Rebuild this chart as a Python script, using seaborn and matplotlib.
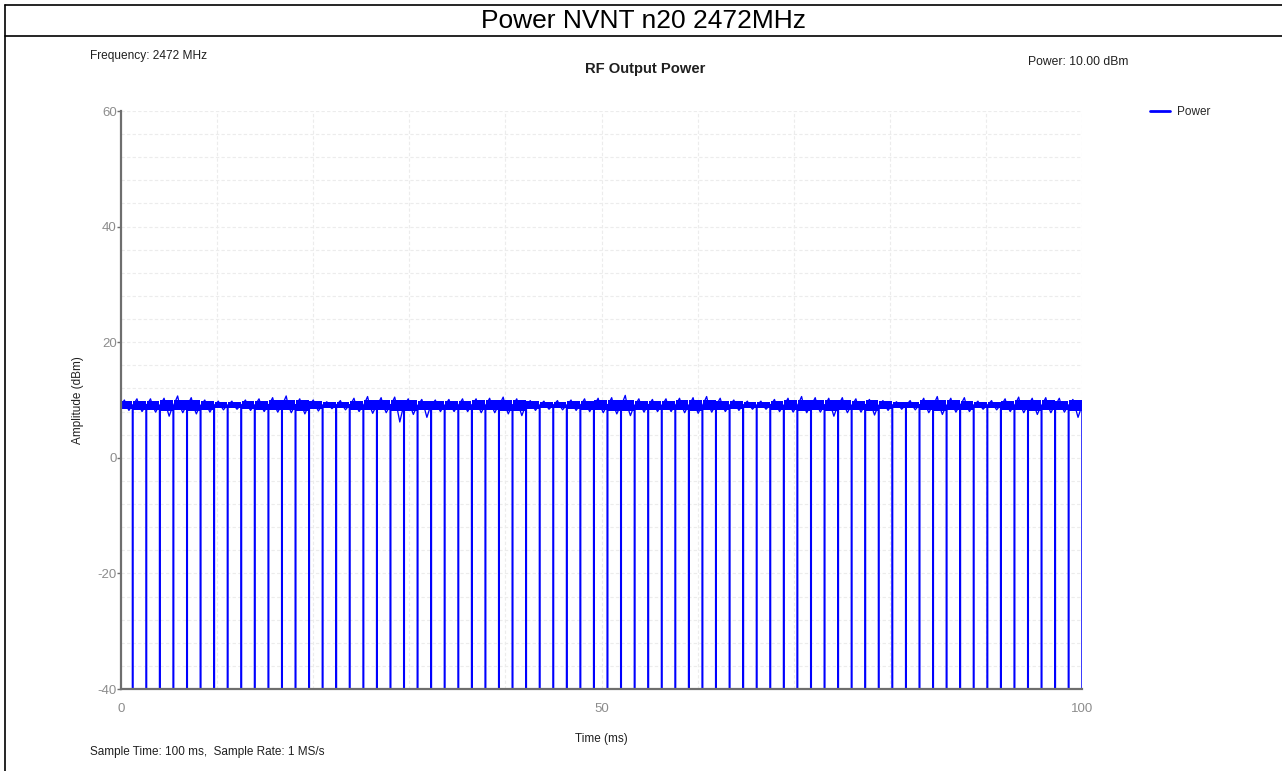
import matplotlib
matplotlib.use("Agg")
import matplotlib.pyplot as plt
from matplotlib.lines import Line2D
import seaborn as sns
import pandas as pd

# ---------------- data ----------------
chart_title = "Power NVNT n20 2472MHz"
plot_title = "RF Output Power"
freq_label = "Frequency: 2472 MHz"
power_label = "Power: 10.00 dBm"
sample_label = "Sample Time: 100 ms,  Sample Rate: 1 MS/s"
series_name = "Power"

x_ticks = [0, 50, 100]
y_ticks = [-40, -20, 0, 20, 40, 60]
floor_dbm = -40

# time (ms) of each off-gap where the trace falls to the floor
drop_ms = [1.18, 2.59, 4.00, 5.41, 6.83, 8.24, 9.65, 11.06, 12.47, 13.88,
           15.30, 16.71, 18.12, 19.53, 20.94, 22.35, 23.76, 25.18, 26.59, 28.00,
           29.41, 30.82, 32.23, 33.64, 35.06, 36.47, 37.88, 39.29, 40.70, 42.11,
           43.53, 44.94, 46.35, 47.76, 49.17, 50.58, 51.99, 53.41, 54.82, 56.23,
           57.64, 59.05, 60.46, 61.87, 63.29, 64.70, 66.11, 67.52, 68.93, 70.34,
           71.76, 73.17, 74.58, 75.99, 77.40, 78.81, 80.22, 81.64, 83.05, 84.46,
           85.87, 87.28, 88.69, 90.11, 91.52, 92.93, 94.34, 95.75, 97.16, 98.57,
           99.99]

# per-burst noise extremes (dBm)
burst_peak = [10.0, 10.2, 10.2, 10.3, 10.7, 10.4, 10.0, 9.8, 9.8, 10.0,
              10.2, 10.4, 10.7, 10.2, 10.0, 9.7, 9.9, 10.3, 10.6, 10.4,
              10.5, 10.2, 10.1, 10.0, 10.1, 10.2, 10.2, 10.3, 10.5, 10.2,
              9.9, 9.8, 9.9, 10.0, 10.2, 10.3, 10.4, 10.8, 10.2, 10.1,
              10.2, 10.3, 10.4, 10.6, 10.3, 10.0, 9.8, 9.8, 10.1, 10.3,
              10.6, 10.4, 10.3, 10.4, 10.2, 10.1, 9.9, 9.7, 9.9, 10.3,
              10.6, 10.3, 10.4, 9.8, 9.9, 10.2, 10.5, 10.3, 10.4, 10.3,
              10.1]
burst_dip = [8.2, 8.0, 7.9, 7.2, 7.8, 7.6, 7.9, 8.3, 8.4, 8.2,
             8.0, 7.9, 7.8, 7.6, 8.1, 8.5, 8.3, 8.0, 7.7, 7.8,
             6.2, 7.5, 7.0, 8.0, 8.0, 8.0, 7.8, 7.8, 7.6, 7.3,
             8.2, 8.4, 8.3, 8.2, 8.0, 7.8, 7.6, 7.3, 7.9, 8.0,
             8.0, 7.8, 7.7, 7.9, 8.0, 8.2, 8.4, 8.4, 8.0, 7.9,
             7.8, 7.9, 7.2, 7.8, 7.9, 7.4, 8.2, 8.4, 8.3, 7.8,
             7.5, 7.9, 8.0, 8.4, 8.3, 8.0, 7.8, 7.5, 7.8, 7.9,
             7.0]
# per-burst dense core of the noise band (dBm)
core_hi = [9.85, 9.90, 9.85, 10.0, 10.05, 10.0, 9.85, 9.65, 9.65, 9.85,
           9.90, 10.0, 10.05, 10.0, 9.85, 9.60, 9.65, 9.85, 10.0, 10.0,
           10.05, 10.0, 9.85, 9.85, 9.85, 9.90, 10.0, 10.0, 10.05, 10.0,
           9.85, 9.65, 9.65, 9.85, 9.90, 10.0, 10.0, 10.05, 9.90, 9.85,
           9.85, 10.0, 10.0, 10.05, 9.90, 9.85, 9.65, 9.65, 9.85, 10.0,
           10.05, 10.0, 10.0, 10.0, 9.85, 10.0, 9.85, 9.60, 9.65, 10.0,
           10.05, 10.0, 9.90, 9.65, 9.65, 9.85, 10.0, 10.0, 10.0, 9.90,
           9.95]
core_lo = [8.40, 8.35, 8.35, 8.15, 8.20, 8.15, 8.35, 8.60, 8.60, 8.40,
           8.35, 8.20, 8.20, 8.15, 8.40, 8.65, 8.60, 8.35, 8.20, 8.20,
           8.05, 8.15, 8.30, 8.35, 8.35, 8.35, 8.20, 8.20, 8.15, 8.10,
           8.40, 8.60, 8.60, 8.40, 8.35, 8.20, 8.15, 8.10, 8.35, 8.35,
           8.35, 8.20, 8.15, 8.20, 8.35, 8.40, 8.60, 8.60, 8.35, 8.20,
           8.15, 8.20, 8.10, 8.20, 8.35, 8.15, 8.40, 8.65, 8.60, 8.20,
           8.10, 8.20, 8.35, 8.60, 8.60, 8.35, 8.20, 8.15, 8.20, 8.30,
           8.10]

# ---------------- style ----------------
sns.set_theme(style="white")
plt.rcParams["font.family"] = ["Liberation Sans", "DejaVu Sans"]

BLUE = "#0000ff"
W, H = 1282, 771
fig = plt.figure(figsize=(W / 100, H / 100), dpi=100)
ax = fig.add_axes([121 / W, 1 - 689 / H, (1082 - 121) / W, (689 - 111) / H])

GAP = 0.08  # off-time width drawn for each gap (ms)

# build the trace table from the lists
rows = []
t0 = 0.0
for b, t1 in enumerate(drop_ms):
    w = t1 - t0
    lvl = (core_hi[b] + core_lo[b]) / 2
    rows += [(t0, lvl), (t0 + 0.3 * w, burst_peak[b]), (t0 + 0.45 * w, lvl),
             (t0 + 0.7 * w, burst_dip[b]), (t1, lvl),
             (t1, floor_dbm), (t1 + GAP, floor_dbm), (t1 + GAP, lvl)]
    # dense noise core
    ax.fill_between([t0, t1], [core_lo[b]] * 2, [core_hi[b]] * 2,
                    color=BLUE, linewidth=0, zorder=3)
    t0 = t1 + GAP
trace = pd.DataFrame(rows, columns=["Time (ms)", "Amplitude (dBm)"])

sns.lineplot(data=trace, x="Time (ms)", y="Amplitude (dBm)", estimator=None,
             sort=False, color=BLUE, linewidth=0.95, ax=ax, zorder=4,
             legend=False)

ax.set_xlim(0, 100)
ax.set_ylim(-40, 60)

# grid
for gx in range(10, 101, 10):
    ax.axvline(gx, color="#ececec", lw=0.8, ls=(0, (3, 2)), zorder=1)
for gy in range(-36, 61, 4):
    ax.axhline(gy, color="#ececec", lw=0.8, ls=(0, (3, 2)), zorder=1)

for s in ["top", "right"]:
    ax.spines[s].set_visible(False)
for s in ["left", "bottom"]:
    ax.spines[s].set_color("#6e6e6e")
    ax.spines[s].set_linewidth(1.6)
    ax.spines[s].set_zorder(5)

ax.set_xticks(x_ticks)
ax.set_yticks(y_ticks)
ax.set_xticklabels([str(v) for v in x_ticks])
ax.set_yticklabels([str(v) for v in y_ticks])
ax.tick_params(axis="y", which="both", left=True, length=3, width=1,
               color="#6e6e6e", labelsize=9.5, labelcolor="#8c8c8c", pad=0)
ax.tick_params(axis="x", which="both", bottom=False, labelsize=9.5,
               labelcolor="#8c8c8c", pad=4)
ax.set_xlabel("Time (ms)", fontsize=8.5, color="#202020", labelpad=13)
ax.set_ylabel("Amplitude (dBm)", fontsize=8.5, color="#202020", labelpad=10)

# legend
h = Line2D([0], [0], color=BLUE, lw=2)
fig.legend([h], [series_name], loc="center left",
           bbox_to_anchor=(1150 / W, 1 - 112 / H), frameon=False,
           fontsize=8.5, handlelength=1.7, handletextpad=0.55,
           borderaxespad=0, borderpad=0)

# texts
fig.text(644 / W, 1 - 21 / H, chart_title, ha="center", va="center",
         fontsize=19, color="black")
fig.text(645 / W, 1 - 69 / H, plot_title, ha="center", va="center",
         fontsize=10.6, fontweight="bold", color="#202020")
fig.text(90 / W, 1 - 56 / H, freq_label, ha="left", va="center",
         fontsize=8.6, color="#202020")
fig.text(1028 / W, 1 - 62 / H, power_label, ha="left", va="center",
         fontsize=8.7, color="#202020")
fig.text(90 / W, 1 - 752 / H, sample_label, ha="left", va="center",
         fontsize=8.5, color="#202020")

# outer frame and title box
frame_kw = dict(color="black", lw=1.2, transform=fig.transFigure)
fig.add_artist(Line2D([5 / W, 1], [1 - 5 / H, 1 - 5 / H], **frame_kw))
fig.add_artist(Line2D([5 / W, 1], [1 - 36 / H, 1 - 36 / H], **frame_kw))
fig.add_artist(Line2D([5 / W, 5 / W], [0, 1 - 5 / H], **frame_kw))

fig.savefig("out.png", dpi=100, facecolor="white")
